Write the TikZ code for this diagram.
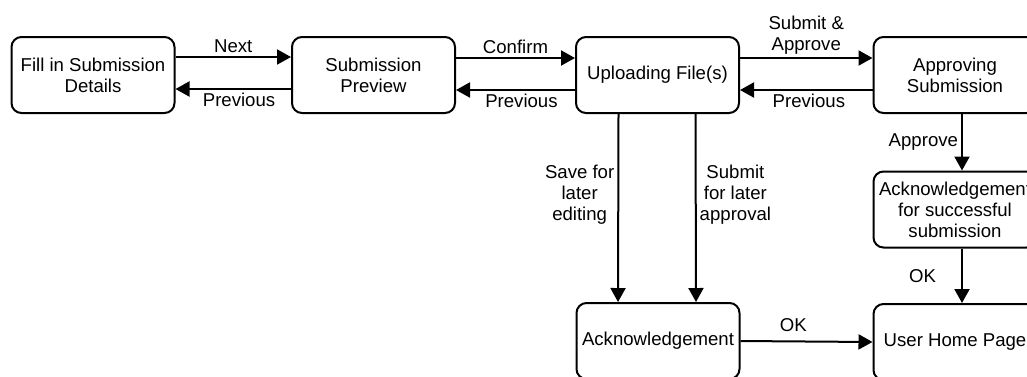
\documentclass[tikz,border=0pt]{standalone}
\usepackage{fontspec}
\setmainfont{Liberation Sans}
\usepackage{tikz}
\usetikzlibrary{arrows.meta}
\usetikzlibrary{positioning}

\tikzset{
  screen/.style={draw=black, line width=2pt, rounded corners=10pt,
    minimum width=163pt, minimum height=76pt, align=center, inner sep=2pt},
  flow/.style={line width=2pt, -{Triangle[length=14pt,width=15pt]}},
  lbl/.style={align=center, inner sep=3pt},
}

\begin{document}
\begin{tikzpicture}[%
x=1pt,
y=-1pt,
font=\fontsize{18.6}{21}\selectfont,
]

\useasboundingbox (0,0) rectangle (1027,376);
\clip (0,0) rectangle (1027,376);

%Bildschirme
\node[screen](fill) at (93,75){Fill in Submission\\Details};
\node[screen](preview) at (373.5,75){Submission\\Preview};
\node[screen](upload) at (657.5,75){Uploading File(s)};
\node[screen](approve) at (955,75){Approving\\Submission};
\node[screen](ackok) at (955,209.5){Acknowledgement\\for successful\\submission};
\node[screen](ack) at (658,341){Acknowledgement};
\node[screen](home) at (955,342){User Home Page};

%Vorwaerts
\draw[flow] ([yshift=18pt]fill.east) -- ([yshift=18pt]preview.west) node[midway, above, lbl]{Next};
\draw[flow] ([yshift=17pt]preview.east) -- ([yshift=17pt]upload.west) node[midway, above, lbl]{Confirm};
\draw[flow] ([yshift=17pt]upload.east) -- ([yshift=17pt]approve.west) node[midway, above, lbl]{Submit \&\\Approve};

%Zurueck
\draw[flow] ([yshift=-14pt]preview.west) -- ([yshift=-14pt]fill.east) node[pos=0.45, below, lbl]{Previous};
\draw[flow] ([yshift=-15pt]upload.west) -- ([yshift=-15pt]preview.east) node[pos=0.45, below, lbl]{Previous};
\draw[flow] ([yshift=-15pt]approve.west) -- ([yshift=-15pt]upload.east) node[pos=0.48, below, lbl]{Previous};

%Nach unten
\draw[flow] ([xshift=-39pt]upload.south) -- ([xshift=-40pt]ack.north) node[pos=0.43, left, lbl]{Save for\\later\\editing};
\draw[flow] ([xshift=38pt]upload.south) -- ([xshift=38pt]ack.north) node[pos=0.43, right, lbl]{Submit\\for later\\approval};
\draw[flow] ([xshift=7pt]approve.south) -- ([xshift=7pt]ackok.north) node[midway, left, lbl]{Approve};
\draw[flow] ([xshift=7pt]ackok.south) -- ([xshift=7pt]home.north) node[midway, left=22pt, lbl]{OK};
\draw[flow] (ack.east) -- (home.west) node[pos=0.4, above=6pt, lbl]{OK};

\end{tikzpicture}
\end{document}
